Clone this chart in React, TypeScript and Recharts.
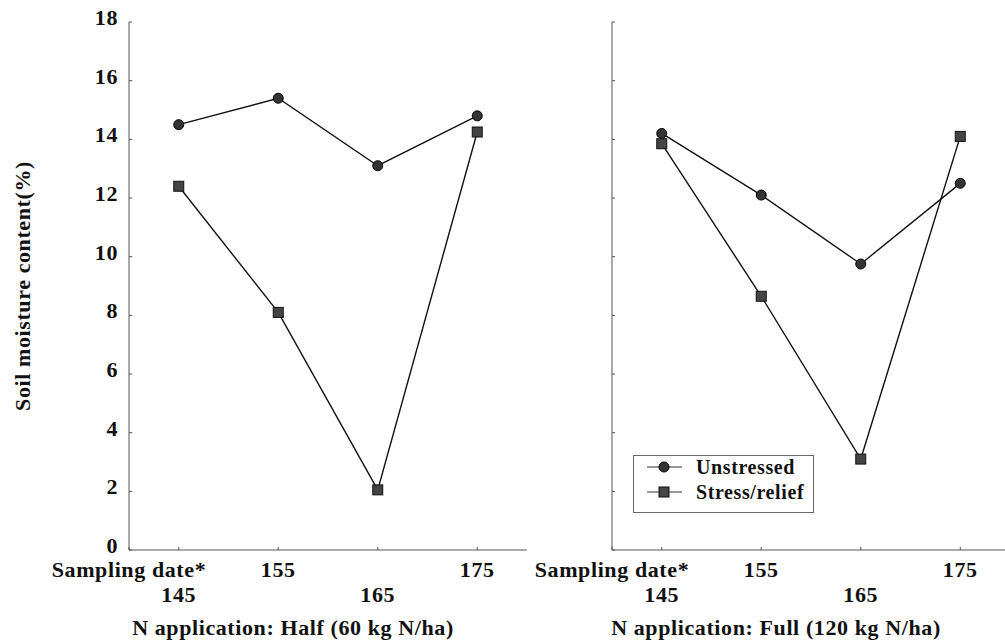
import React from 'react';
import { LineChart, Line, XAxis, YAxis, Legend, Label } from 'recharts';

// ---------- data ----------
const dates = [145, 155, 165, 175];
const halfUnstressed = [14.5, 15.4, 13.1, 14.8];
const halfStress = [12.4, 8.1, 2.05, 14.25];
const fullUnstressed = [14.2, 12.1, 9.75, 12.5];
const fullStress = [13.85, 8.65, 3.1, 14.1];

const xTicks = [140, 145, 155, 165, 175];
const yTicks = [0, 2, 4, 6, 8, 10, 12, 14, 16, 18];
const seriesNames = ['Unstressed', 'Stress/relief'];
const startLabel = 'Sampling date*';
const yTitle = 'Soil moisture content(%)';
const xTitles = ['N application: Half (60 kg N/ha)', 'N application: Full (120 kg N/ha)'];

const halfData = dates.map((d, i) => ({ date: d, u: halfUnstressed[i], s: halfStress[i] }));
const fullData = dates.map((d, i) => ({ date: d, u: fullUnstressed[i], s: fullStress[i] }));

// ---------- styles ----------
const AXIS = '#555';
const INK = '#111';
const FS = 22;
const TS: React.CSSProperties = { fontFamily: 'Liberation Serif', fontWeight: 700, letterSpacing: '0.6px' };

const XTick = (props: any) => {
  const { x, y, payload } = props;
  const v = payload.value;
  const label = v === 140 ? startLabel : String(v);
  const row2 = v === 145 || v === 165;
  return (
    <text x={x} y={y + (row2 ? 52 : 27)} textAnchor="middle" style={TS} fontSize={FS} fill={INK}>
      {label}
    </text>
  );
};

const YTick = (props: any) => {
  const { x, y, payload } = props;
  return (
    <text x={x} y={y + 3} textAnchor="end" style={TS} fontSize={FS} fill={INK}>
      {payload.value}
    </text>
  );
};

const Empty = () => <g />;

const CircleDot = (props: any) => {
  const { cx, cy, index } = props;
  if (cx == null || cy == null) return <g key={index} />;
  return <circle key={index} cx={cx} cy={cy} r={5} fill="#333" stroke="#000" strokeWidth={1} />;
};

const SquareDot = (props: any) => {
  const { cx, cy, index } = props;
  if (cx == null || cy == null) return <g key={index} />;
  return <rect key={index} x={cx - 5} y={cy - 5} width={10} height={10} fill="#444" stroke="#111" strokeWidth={1} />;
};

const LegendBox = () => (
  <svg width={182} height={59} style={{ display: 'block' }}>
    <rect x={0.5} y={0.5} width={180} height={57} fill="#fff" stroke="#666" strokeWidth={1} />
    <line x1={14} x2={49} y1={12} y2={12} stroke="#333" strokeWidth={1.2} />
    <circle cx={31} cy={12} r={5} fill="#333" stroke="#000" />
    <text x={63} y={19} style={TS} fontSize={20} fill={INK}>{seriesNames[0]}</text>
    <line x1={14} x2={49} y1={37} y2={37} stroke="#333" strokeWidth={1.2} />
    <rect x={26} y={32} width={10} height={10} fill="#444" stroke="#111" />
    <text x={63} y={44} style={TS} fontSize={20} fill={INK}>{seriesNames[1]}</text>
  </svg>
);

const xTitleContent = (title: string) => (props: any) => {
  const vb = props.viewBox || {};
  return (
    <text x={vb.x + vb.width / 2 - 35} y={635} textAnchor="middle" style={TS} fontSize={FS} fill={INK}>
      {title}
    </text>
  );
};

const yTitleContent = (props: any) => {
  const vb = props.viewBox || {};
  const cx = 22;
  const cy = vb.y + vb.height / 2;
  return (
    <text
      x={cx}
      y={cy}
      transform={`rotate(-90 ${cx} ${cy})`}
      textAnchor="middle"
      dominantBaseline="central"
      style={TS}
      fontSize={FS}
      fill={INK}
    >
      {yTitle}
    </text>
  );
};

type PanelProps = {
  data: any[];
  width: number;
  yWidth: number;
  marginRight: number;
  showYLabels: boolean;
  title: string;
  legend?: boolean;
  legendLeft?: number;
};

const Panel = ({ data, width, yWidth, marginRight, showYLabels, title, legend, legendLeft }: PanelProps) => (
  <LineChart width={width} height={644} data={data} margin={{ top: 22, right: marginRight, left: 0, bottom: 0 }}>
    <XAxis
      xAxisId="b"
      dataKey="date"
      type="number"
      domain={[140, 180]}
      ticks={xTicks}
      interval={0}
      height={94}
      stroke={AXIS}
      tickLine={{ stroke: AXIS }}
      tickSize={-3}
      tickMargin={3}
      tick={<XTick />}
    >
      <Label content={xTitleContent(title)} />
    </XAxis>
    <XAxis
      xAxisId="t"
      orientation="top"
      dataKey="date"
      type="number"
      domain={[140, 180]}
      ticks={dates}
      height={0}
      stroke={AXIS}
      tickLine={{ stroke: AXIS }}
      tickSize={-3}
      tick={Empty}
    />
    <YAxis
      yAxisId="l"
      domain={[0, 18]}
      ticks={yTicks}
      interval={0}
      width={yWidth}
      stroke={AXIS}
      tickLine={{ stroke: AXIS }}
      tickSize={-3}
      tickMargin={14}
      tick={showYLabels ? <YTick /> : Empty}
    >
      {showYLabels ? <Label content={yTitleContent} /> : null}
    </YAxis>
    <YAxis
      yAxisId="r"
      orientation="right"
      domain={[0, 18]}
      ticks={yTicks}
      width={0}
      stroke={AXIS}
      tickLine={{ stroke: AXIS }}
      tickSize={-3}
      tick={Empty}
    />
    <Line
      xAxisId="b"
      yAxisId="l"
      dataKey="u"
      name={seriesNames[0]}
      stroke={INK}
      strokeWidth={1.4}
      dot={CircleDot}
      isAnimationActive={false}
    />
    <Line
      xAxisId="b"
      yAxisId="l"
      dataKey="s"
      name={seriesNames[1]}
      stroke={INK}
      strokeWidth={1.4}
      dot={SquareDot}
      isAnimationActive={false}
    />
    {legend ? (
      <Legend
        layout="horizontal"
        verticalAlign="middle"
        align="center"
        content={<LegendBox />}
        wrapperStyle={{ position: 'absolute', left: legendLeft, top: 455, width: 182, height: 59 }}
      />
    ) : null}
  </LineChart>
);

export default function App() {
  return (
    <div
      style={{
        position: 'fixed',
        left: 0,
        top: 0,
        width: 1005,
        height: 644,
        overflow: 'hidden',
        background: '#fff',
      }}
    >
      <div style={{ position: 'absolute', left: 0, top: 0 }}>
        <Panel data={halfData} width={530} yWidth={129} marginRight={3} showYLabels title={xTitles[0]} />
      </div>
      <div style={{ position: 'absolute', left: 530, top: 0 }}>
        <Panel
          data={fullData}
          width={480}
          yWidth={82}
          marginRight={0}
          showYLabels={false}
          title={xTitles[1]}
          legend
          legendLeft={103}
        />
      </div>
    </div>
  );
}
